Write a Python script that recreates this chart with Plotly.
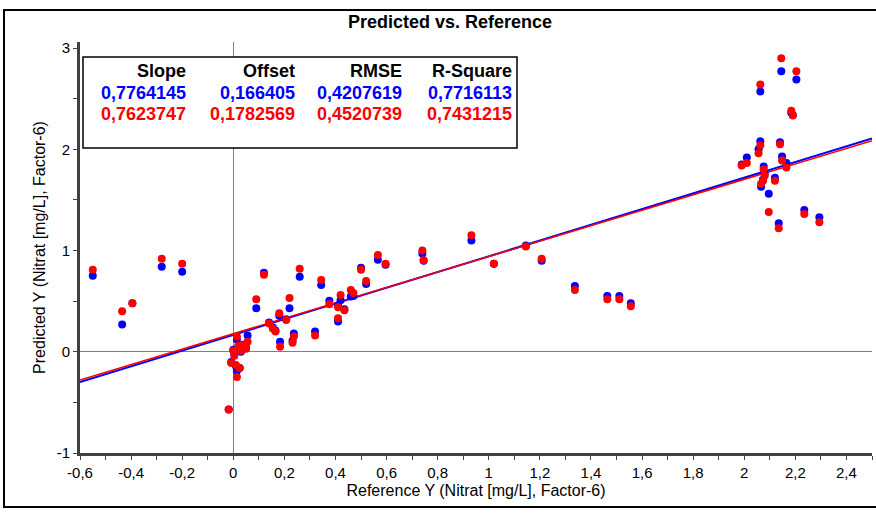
import plotly.graph_objects as go

# ---- data ----
reference_x = [
    -0.55, -0.435, -0.395, -0.28, -0.20,
    -0.018, 0.0, 0.004, -0.008, 0.01, 0.014, 0.025, 0.014, 0.037, 0.05, 0.056, 0.03, 0.02,
    0.09, 0.12, 0.14, 0.155, 0.165, 0.18, 0.183, 0.207, 0.22, 0.237, 0.232, 0.26,
    0.32, 0.344, 0.376, 0.41, 0.41, 0.42, 0.435, 0.46, 0.47, 0.50, 0.52, 0.566, 0.596,
    0.74, 0.745, 0.932, 1.02, 1.145, 1.207, 1.337, 1.464, 1.511, 1.556,
    2.145, 2.204, 2.063, 2.184, 2.19, 2.063, 2.056, 2.14, 2.01, 1.99, 2.148, 2.165,
    2.076, 2.08, 2.073, 2.066, 2.12, 2.096, 2.135, 2.235, 2.294,
]
predicted_blue = [
    0.75, 0.27, 0.48, 0.84, 0.79,
    -0.57, 0.02, -0.03, -0.10, -0.14, -0.19, -0.16, 0.12, 0.07, 0.04, 0.16, 0.00, 0.05,
    0.43, 0.78, 0.29, 0.24, 0.21, 0.355, 0.10, 0.32, 0.43, 0.18, 0.11, 0.74,
    0.20, 0.66, 0.505, 0.30, 0.46, 0.51, 0.42, 0.545, 0.55, 0.83, 0.67, 0.91, 0.86,
    0.97, 0.90, 1.10, 0.87, 1.05, 0.90, 0.65, 0.55, 0.55, 0.48,
    2.77, 2.69, 2.57, 2.36, 2.34, 2.08, 2.00, 2.07, 1.92, 1.85, 1.93, 1.865,
    1.83, 1.76, 1.70, 1.63, 1.72, 1.56, 1.27, 1.40, 1.33,
]
predicted_red = [
    0.81, 0.40, 0.48, 0.92, 0.87,
    -0.57, 0.01, -0.04, -0.11, -0.13, -0.25, -0.16, 0.15, 0.07, 0.03, 0.10, 0.01, 0.06,
    0.52, 0.76, 0.28, 0.23, 0.20, 0.38, 0.05, 0.315, 0.53, 0.15, 0.09, 0.82,
    0.16, 0.71, 0.47, 0.33, 0.44, 0.56, 0.41, 0.61, 0.58, 0.81, 0.70, 0.955, 0.87,
    1.00, 0.905, 1.15, 0.87, 1.04, 0.92, 0.61, 0.52, 0.52, 0.45,
    2.90, 2.77, 2.64, 2.38, 2.335, 2.04, 1.96, 2.05, 1.865, 1.84, 1.89, 1.82,
    1.80, 1.74, 1.69, 1.66, 1.69, 1.38, 1.22, 1.36, 1.28,
]

stat_headers = ["Slope", "Offset", "RMSE", "R-Square"]
stats_blue = ["0,7764145", "0,166405", "0,4207619", "0,7716113"]
stats_red = ["0,7623747", "0,1782569", "0,4520739", "0,7431215"]
slopes = [0.7764145, 0.7623747]
offsets = [0.166405, 0.1782569]

x_range = [-0.6, 2.5]
y_range = [-1.0, 3.06]
x_tickvals = [-0.6, -0.4, -0.2, 0, 0.2, 0.4, 0.6, 0.8, 1, 1.2, 1.4, 1.6, 1.8, 2, 2.2, 2.4]
x_ticktext = ["-0,6", "-0,4", "-0,2", "0", "0,2", "0,4", "0,6", "0,8", "1", "1,2", "1,4",
              "1,6", "1,8", "2", "2,2", "2,4"]
y_tickvals = [-1, 0, 1, 2, 3]
y_ticktext = ["-1", "0", "1", "2", "3"]

BLUE = "#0000FF"
RED = "#FF0000"
NARROW = "Liberation Sans Narrow, Arial Narrow, Liberation Sans, Arial, sans-serif"
WIDE = "Liberation Sans, Arial, sans-serif"

fig = go.Figure()

# regression lines
line_x = list(x_range)
fig.add_trace(go.Scatter(x=line_x, y=[slopes[0] * v + offsets[0] for v in line_x],
                         mode="lines", line=dict(color=BLUE, width=2), hoverinfo="skip"))
fig.add_trace(go.Scatter(x=line_x, y=[slopes[1] * v + offsets[1] for v in line_x],
                         mode="lines", line=dict(color=RED, width=1.5), hoverinfo="skip"))

fig.add_trace(go.Scatter(x=reference_x, y=predicted_blue, mode="markers",
                         marker=dict(color=BLUE, size=8, line=dict(width=0))))
fig.add_trace(go.Scatter(x=reference_x, y=predicted_red, mode="markers",
                         marker=dict(color=RED, size=8, line=dict(width=0))))

W, H = 876, 513
L, R, T, B = 80, 4, 42, 60
pw, ph = W - L - R, H - T - B


def px(xp):
    return (xp - L) / pw


def py(yp):
    return (H - B - yp) / ph


shapes = [
    # outer frame
    dict(type="rect", xref="paper", yref="paper", x0=px(4), x1=px(882), y0=py(507), y1=py(10),
         line=dict(color="#000000", width=2), fillcolor="rgba(0,0,0,0)", layer="above"),
    # stats box
    dict(type="rect", xref="paper", yref="paper", x0=px(83), x1=px(517), y0=py(148), y1=py(57),
         line=dict(color="#000000", width=1.5), fillcolor="#FFFFFF", layer="above"),
]

annotations = []
col_right = [188, 297, 404, 514]
row_y = [71, 93, 114]
rows = [(stat_headers, "#000000"), (stats_blue, BLUE), (stats_red, RED)]
for (texts, color), yy in zip(rows, row_y):
    for t, xx in zip(texts, col_right):
        annotations.append(dict(text="<b>%s</b>" % t, x=px(xx), y=py(yy), xref="paper", yref="paper",
                                xanchor="right", yanchor="middle", showarrow=False,
                                font=dict(family=WIDE, size=18, color=color)))

fig.update_layout(
    width=W, height=H,
    margin=dict(l=L, r=R, t=T, b=B),
    paper_bgcolor="white", plot_bgcolor="white",
    showlegend=False,
    title=dict(text="<b>Predicted vs. Reference</b>", x=450 / W, xanchor="center",
               y=1 - 22 / H, yanchor="middle", font=dict(family=NARROW, size=18, color="#000000")),
    shapes=shapes,
    annotations=annotations,
    xaxis=dict(range=x_range, tickmode="array", tickvals=x_tickvals, ticktext=x_ticktext,
               ticks="outside", ticklen=4, tickcolor="#404040", tickwidth=1,
               minor=dict(dtick=0.1, tick0=0, ticks="outside", ticklen=4, tickcolor="#404040"),
               showgrid=False, zeroline=True, zerolinecolor="#808080", zerolinewidth=1,
               showline=True, linecolor="#404040", linewidth=3,
               tickfont=dict(family=NARROW, size=15, color="#000000"),
               title=dict(text="Reference Y (Nitrat [mg/L], Factor-6)", standoff=5,
                          font=dict(family=NARROW, size=16, color="#000000"))),
    yaxis=dict(range=y_range, tickmode="array", tickvals=y_tickvals, ticktext=y_ticktext,
               ticks="outside", ticklen=4, tickcolor="#404040", tickwidth=1,
               minor=dict(dtick=0.5, tick0=0, ticks="outside", ticklen=4, tickcolor="#404040"),
               showgrid=False, zeroline=True, zerolinecolor="#808080", zerolinewidth=1,
               showline=True, linecolor="#404040", linewidth=3,
               tickfont=dict(family=NARROW, size=15, color="#000000"),
               title=dict(text="Predicted Y (Nitrat [mg/L], Factor-6)", standoff=8,
                          font=dict(family=NARROW, size=16, color="#000000"))),
)

fig.write_html("out.html")
